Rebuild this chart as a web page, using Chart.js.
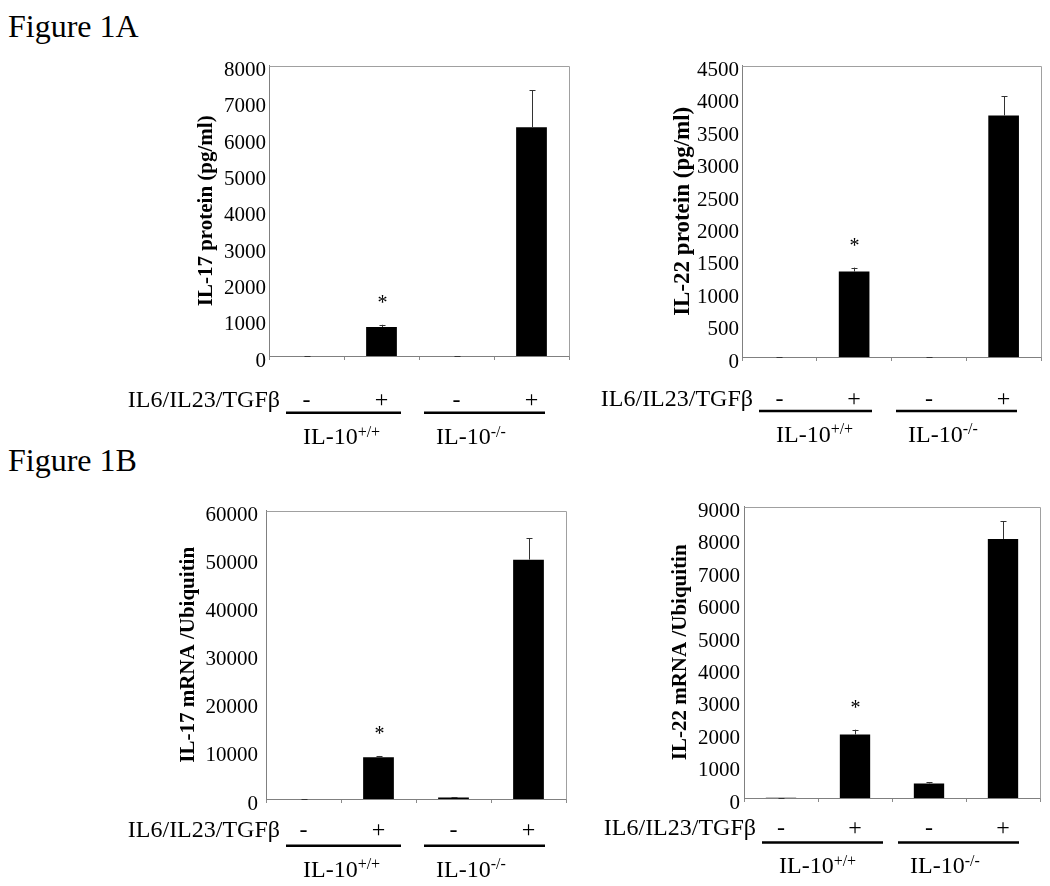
<!DOCTYPE html>
<html>
<head>
<meta charset="utf-8">
<script src="https://cdn.jsdelivr.net/npm/chart.js@4.4.1/dist/chart.umd.min.js"></script>
<style>
html,body{margin:0;padding:0;background:#fff;}
body{width:1050px;height:886px;overflow:hidden;position:relative;font-family:'Liberation Serif','Times New Roman',Times,serif;}
.fig{position:absolute;left:8px;font-size:32px;line-height:32px;color:#000;white-space:nowrap;}
canvas{position:absolute;}
</style>
</head>
<body>
<div class="fig" style="top:10px">Figure 1A</div>
<div class="fig" style="top:444px">Figure 1B</div>
<script>
// ---- data ----
const categories = ['IL-10+/+ −', 'IL-10+/+ +', 'IL-10−/− −', 'IL-10−/− +'];
const treatmentName = 'IL6/IL23/TGFβ';
const treatment = ['-', '+', '-', '+'];
const groupBase = 'IL-10';
const groupSup = ['+/+', '-/-'];
const signif = ['', '*', '', ''];

const il17Protein = [0, 800, 0, 6300];
const il17ProteinErr = [0, 60, 0, 1020];
const il17ProteinTicks = [0, 1000, 2000, 3000, 4000, 5000, 6000, 7000, 8000];

const il22Protein = [0, 1320, 0, 3730];
const il22ProteinErr = [0, 60, 0, 300];
const il22ProteinTicks = [0, 500, 1000, 1500, 2000, 2500, 3000, 3500, 4000, 4500];

const il17mRNA = [0, 8700, 300, 49800];
const il17mRNAErr = [0, 250, 50, 4500];
const il17mRNATicks = [0, 10000, 20000, 30000, 40000, 50000, 60000];

const il22mRNA = [10, 1960, 450, 8000];
const il22mRNAErr = [0, 150, 40, 550];
const il22mRNATicks = [0, 1000, 2000, 3000, 4000, 5000, 6000, 7000, 8000, 9000];

// ---- layout ----
const SERIF = "'Liberation Serif', 'Times New Roman', Times, serif";

const panels = [
  {left:110, top:50, w:480, h:420, yWidth:159, pad:{top:14, right:21, bottom:108},
   title:'IL-17 protein (pg/ml)', titleSize:21, titleCenter:97, tickPad:3,
   values:il17Protein, errors:il17ProteinErr, ticks:il17ProteinTicks,
   rowBase:51, lineY:56.7, groupBase:88, line1:[17,18], line2:[5,24]},
  {left:580, top:50, w:470, h:420, yWidth:162, pad:{top:14, right:9, bottom:107},
   title:'IL-22 protein (pg/ml)', titleSize:23, titleCenter:103, tickPad:3,
   values:il22Protein, errors:il22ProteinErr, ticks:il22ProteinTicks,
   rowBase:49, lineY:54, groupBase:84.7, line1:[17,19.5], line2:[4.5,24]},
  {left:110, top:490, w:480, h:396, yWidth:156, pad:{top:12, right:24, bottom:81},
   title:'IL-17 mRNA /Ubiquitin', titleSize:21, titleCenter:79, tickPad:8,
   values:il17mRNA, errors:il17mRNAErr, ticks:il17mRNATicks,
   rowBase:37.7, lineY:46.7, groupBase:77.7, line1:[20,15], line2:[8,21]},
  {left:580, top:490, w:470, h:396, yWidth:164, pad:{top:12, right:10, bottom:82},
   title:'IL-22 mRNA /Ubiquitin', titleSize:21, titleCenter:101, tickPad:4,
   values:il22mRNA, errors:il22mRNAErr, ticks:il22mRNATicks,
   rowBase:37, lineY:44.5, groupBase:75, line1:[18,9], line2:[6,21]}
];

function decor(P) {
  return {
    id: 'decor',
    afterDatasetsDraw(chart) {
      const ctx = chart.ctx;
      const xs = chart.scales.x, ys = chart.scales.y;
      const area = chart.chartArea;
      ctx.save();
      ctx.strokeStyle = '#a0a0a0';
      ctx.lineWidth = 1;
      ctx.beginPath();
      ctx.moveTo(Math.round(area.left) + 0.5, Math.round(area.top) + 0.5);
      ctx.lineTo(Math.round(area.right) + 0.5, Math.round(area.top) + 0.5);
      ctx.lineTo(Math.round(area.right) + 0.5, Math.round(area.bottom) + 0.5);
      ctx.stroke();
      ctx.strokeStyle = '#333';
      ctx.lineWidth = 1;
      P.values.forEach((v, i) => {
        const x = Math.round(xs.getPixelForValue(i)) + 0.5;
        const y0 = ys.getPixelForValue(v);
        const y1 = ys.getPixelForValue(v + P.errors[i]);
        ctx.beginPath();
        ctx.moveTo(x, y0);
        ctx.lineTo(x, y1);
        ctx.moveTo(x - 3, Math.round(y1) + 0.5);
        ctx.lineTo(x + 3, Math.round(y1) + 0.5);
        ctx.stroke();
        if (signif[i]) {
          ctx.fillStyle = '#000';
          ctx.font = '20px ' + SERIF;
          ctx.textAlign = 'center';
          ctx.textBaseline = 'alphabetic';
          ctx.fillText(signif[i], x, y1 - 15.5);
        }
      });
      ctx.restore();
    },
    afterDraw(chart) {
      const ctx = chart.ctx;
      const xs = chart.scales.x;
      const area = chart.chartArea;
      const L = area.left, R = area.right, B = area.bottom;
      const mid = L + (R - L) / 2;
      ctx.save();
      ctx.fillStyle = '#000';
      ctx.strokeStyle = '#000';
      ctx.font = '24px ' + SERIF;
      ctx.textBaseline = 'alphabetic';
      const base = B + P.rowBase;
      const l1s = L + P.line1[0], l1e = mid - P.line1[1];
      const l2s = mid + P.line2[0], l2e = R - P.line2[1];
      ctx.textAlign = 'right';
      ctx.fillText(treatmentName, l1s - 6, base);
      ctx.textAlign = 'center';
      treatment.forEach((t, i) => ctx.fillText(t, xs.getPixelForValue(i), base));
      ctx.lineWidth = 2.5;
      ctx.beginPath();
      ctx.moveTo(l1s, B + P.lineY); ctx.lineTo(l1e, B + P.lineY);
      ctx.moveTo(l2s, B + P.lineY); ctx.lineTo(l2e, B + P.lineY);
      ctx.stroke();
      ctx.textAlign = 'left';
      const starts = [l1s + 17, l2s + 12];
      groupSup.forEach((s, g) => {
        const gb = B + P.groupBase;
        ctx.font = '24px ' + SERIF;
        ctx.fillText(groupBase, starts[g], gb);
        const w = ctx.measureText(groupBase).width;
        ctx.font = '16px ' + SERIF;
        ctx.fillText(s, starts[g] + w, gb - 7.5);
      });
      ctx.restore();
    }
  };
}

function makeChart(P) {
  const canvas = document.createElement('canvas');
  canvas.width = P.w; canvas.height = P.h;
  canvas.style.left = P.left + 'px';
  canvas.style.top = P.top + 'px';
  canvas.style.width = P.w + 'px';
  canvas.style.height = P.h + 'px';
  document.body.appendChild(canvas);
  const lh = 1.2;
  new Chart(canvas.getContext('2d'), {
    type: 'bar',
    data: {
      labels: categories,
      datasets: [{
        data: P.values,
        backgroundColor: '#000',
        borderWidth: 0,
        barPercentage: 0.41,
        categoryPercentage: 1
      }]
    },
    options: {
      responsive: false,
      animation: false,
      devicePixelRatio: 1,
      layout: {padding: {left: 0, top: P.pad.top, right: P.pad.right, bottom: P.pad.bottom}},
      plugins: {legend: {display: false}, tooltip: {enabled: false}, title: {display: false}},
      scales: {
        x: {
          type: 'category',
          offset: true,
          grid: {display: true, drawOnChartArea: false, drawTicks: true, tickLength: 4, color: '#8a8a8a', offset: true},
          border: {display: true, color: '#808080', width: 1},
          ticks: {display: false},
          afterFit: s => { s.height = 6; }
        },
        y: {
          type: 'linear',
          min: P.ticks[0],
          max: P.ticks[P.ticks.length - 1],
          afterBuildTicks: s => { s.ticks = P.ticks.map(v => ({value: v})); },
          grid: {display: false, drawTicks: false},
          border: {display: true, color: '#808080', width: 1},
          ticks: {
            font: {family: SERIF, size: 21},
            color: '#000',
            padding: P.tickPad,
            labelOffset: 5,
            callback: v => String(v)
          },
          title: {
            display: true,
            text: P.title,
            color: '#000',
            font: {family: SERIF, size: P.titleSize, weight: 'bold', lineHeight: lh},
            padding: {top: P.titleCenter - P.titleSize * lh / 2, bottom: 0}
          },
          afterFit: s => { s.width = P.yWidth; }
        }
      }
    },
    plugins: [decor(P)]
  });
}

panels.forEach(makeChart);
</script>
</body>
</html>
